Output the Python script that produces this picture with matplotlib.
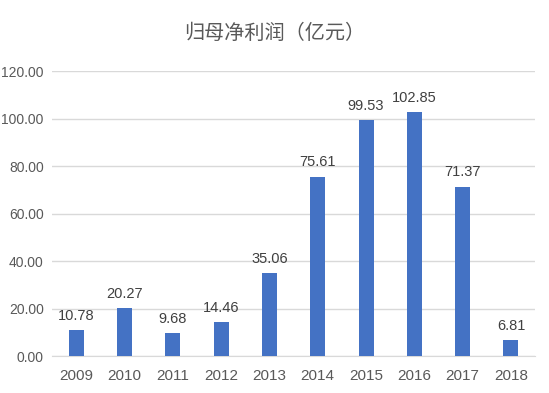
import matplotlib
matplotlib.use("Agg")
import matplotlib.pyplot as plt

years = ["2009", "2010", "2011", "2012", "2013", "2014", "2015", "2016", "2017", "2018"]
profit = [10.78, 20.27, 9.68, 14.46, 35.06, 75.61, 99.53, 102.85, 71.37, 6.81]
yticks = [0, 20, 40, 60, 80, 100, 120]
title = "归母净利润（亿元）"

num_font = ["Liberation Sans Narrow", "Liberation Sans", "DejaVu Sans"]
plt.rcParams['font.family'] = ['Noto Sans CJK SC', 'DejaVu Sans']

fig = plt.figure(figsize=(5.49, 3.93), dpi=100)
ax = fig.add_axes([0.0947, 0.094, 0.88, 0.725])

x = list(range(len(years)))
ax.bar(x, profit, width=0.31, color="#4472C4", zorder=3)
for xi, v in zip(x, profit):
    ax.text(xi, v + 3, f"{v:.2f}", ha="center", va="bottom", fontsize=10.5,
            color="#404040", family=num_font)

ax.set_xlim(-0.5, len(years) - 0.5)
ax.set_ylim(0, 120)
ax.set_yticks(yticks)
ax.set_yticklabels([f"{t:.2f}" for t in yticks], family=num_font, fontsize=10, color="#595959")
ax.set_xticks(x)
ax.set_xticklabels(years, family=num_font, fontsize=11, color="#595959")
ax.yaxis.grid(True, color="#d9d9d9", linewidth=1, zorder=0)
for s in ["top", "right", "left"]:
    ax.spines[s].set_visible(False)
ax.spines["bottom"].set_color("#d9d9d9")
ax.tick_params(axis="y", length=0, pad=6)
ax.tick_params(axis="x", length=0, pad=9)

fig.text(0.5, 0.915, title, ha="center", va="center", fontsize=14.5, color="#595959")

fig.savefig("out.png", dpi=100)
